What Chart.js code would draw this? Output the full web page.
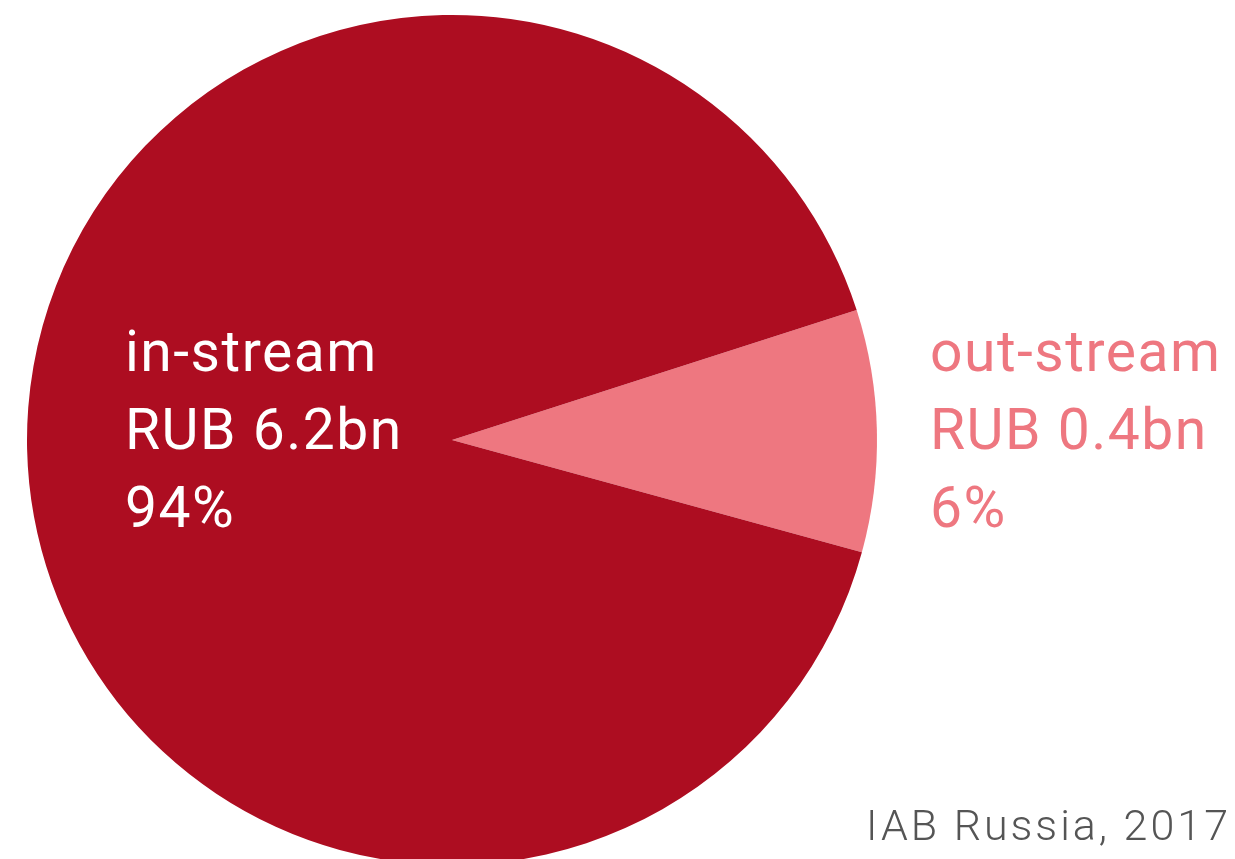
<!DOCTYPE html>
<html>
<head>
<meta charset="utf-8">
<script src="https://cdn.jsdelivr.net/npm/chart.js@4/dist/chart.umd.min.js"></script>
<style>
  html, body { margin: 0; padding: 0; background: #fff; overflow: hidden; }
  body { width: 1235px; height: 859px; position: relative; font-family: Roboto, sans-serif; }
  #wrap { position: absolute; left: 0; top: 0; width: 1235px; height: 880px; }
  .lbl { position: absolute; font-size: 57px; line-height: 78px; letter-spacing: 1.5px; white-space: nowrap; }
  #src { position: absolute; right: 4px; top: 805px; font-size: 43px; line-height: 40px; letter-spacing: 3px; color: #555; font-weight: 300; white-space: nowrap; }
</style>
</head>
<body>
<div id="wrap"><canvas id="myChart"></canvas></div>
<div class="lbl" id="lbl0"></div>
<div class="lbl" id="lbl1"></div>
<div id="src">IAB Russia, 2017</div>
<script>
// slice sizes as drawn in the picture, plus the text printed on it
var categories = ["out-stream", "in-stream"];
var sliceValues = [9.2, 90.8];
var amounts = ["RUB 0.4bn", "RUB 6.2bn"];
var shares = ["6%", "94%"];
var colors = ["#ee7780", "#ad0d21"];

var chart = new Chart(document.getElementById("myChart"), {
  type: 'pie',
  data: {
    labels: categories,
    datasets: [{
      data: sliceValues,
      backgroundColor: colors,
      borderWidth: 0
    }]
  },
  options: {
    responsive: true,
    maintainAspectRatio: false,
    animation: false,
    rotation: 72.2,
    layout: { padding: { left: 27, top: 15, right: 358, bottom: 15 } },
    plugins: {
      legend: { display: false },
      tooltip: { enabled: false }
    }
  }
});

// labels: out-stream to the right of the pie, in-stream inside it
var l0 = document.getElementById("lbl0");
l0.innerHTML = categories[0] + "<br>" + amounts[0] + "<br>" + shares[0];
l0.style.left = "930px"; l0.style.top = "313px"; l0.style.color = colors[0];
var l1 = document.getElementById("lbl1");
l1.innerHTML = categories[1] + "<br>" + amounts[1] + "<br>" + shares[1];
l1.style.left = "125px"; l1.style.top = "313px"; l1.style.color = "#fff";
</script>
</body>
</html>
